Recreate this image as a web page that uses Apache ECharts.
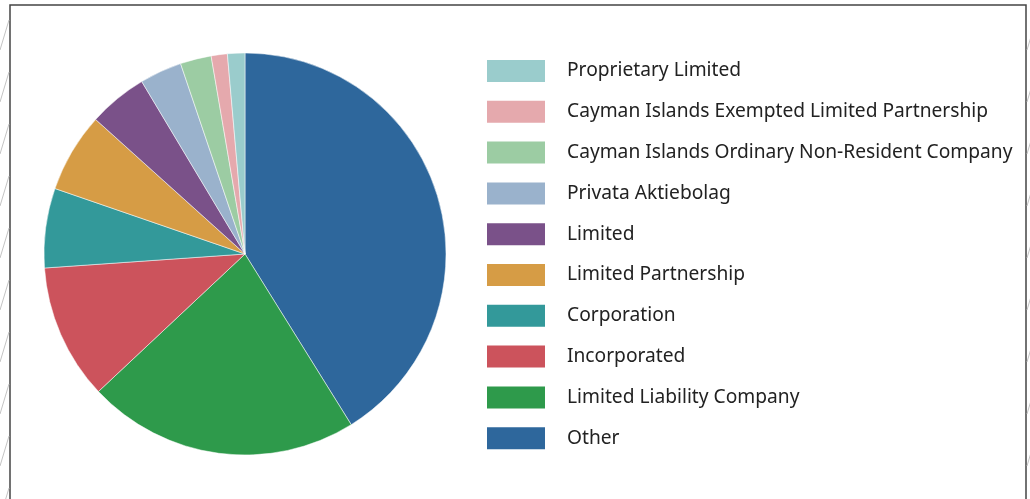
<!DOCTYPE html>
<html>
<head>
<meta charset="utf-8">
<script src="https://cdn.jsdelivr.net/npm/echarts@6/dist/echarts.min.js"></script>
<style>
  html, body { margin: 0; padding: 0; background: #fff; }
  #chart { width: 1030px; height: 499px; }
</style>
</head>
<body>
<div id="chart"></div>
<script>
// slice data, clockwise from 12 o'clock
const categories = [
  "Other",
  "Limited Liability Company",
  "Incorporated",
  "Corporation",
  "Limited Partnership",
  "Limited",
  "Privata Aktiebolag",
  "Cayman Islands Ordinary Non-Resident Company",
  "Cayman Islands Exempted Limited Partnership",
  "Proprietary Limited"
];
const shares = [41.2, 21.9, 10.9, 6.4, 6.4, 4.75, 3.4, 2.5, 1.3, 1.4];
const colors = [
  "#2e679c", "#2e9a4b", "#cc535c", "#33999a", "#d69c45",
  "#7a5189", "#9ab2cc", "#9ccca3", "#e5a9ad", "#9acccc"
];

const chart = echarts.init(document.getElementById("chart"));

// frame + hatch decoration
const deco = [
  { type: "rect", shape: { x: 10, y: 5, width: 1016, height: 520 },
    style: { fill: "none", stroke: "#444", lineWidth: 1.5 }, silent: true }
];
for (let y = 20; y < 520; y += 52) {
  deco.push({ type: "line", shape: { x1: 0, y1: y + 30, x2: 9, y2: y },
    style: { stroke: "#c4c4c4", lineWidth: 1 }, silent: true });
  deco.push({ type: "line", shape: { x1: 1027, y1: y + 30, x2: 1036, y2: y },
    style: { stroke: "#c4c4c4", lineWidth: 1 }, silent: true });
}

chart.setOption({
  backgroundColor: "#fff",
  animation: false,
  color: colors,
  graphic: deco,
  legend: {
    orient: "vertical",
    left: 482,
    top: 55,
    itemWidth: 58,
    itemHeight: 22,
    itemGap: 18.8,
    icon: "rect",
    itemStyle: { borderWidth: 0 },
    data: categories.slice().reverse(),
    textStyle: {
      fontFamily: "Noto Sans",
      fontSize: 19.2,
      color: "#222",
      lineHeight: 22,
      padding: [0, 0, 0, 17]
    }
  },
  series: [{
    type: "pie",
    center: [245, 254],
    radius: 201,
    startAngle: 90,
    clockwise: true,
    label: { show: false },
    labelLine: { show: false },
    itemStyle: { borderColor: "#fff", borderWidth: 0.5 },
    data: categories.map((name, i) => ({ name, value: shares[i] }))
  }]
});
</script>
</body>
</html>
